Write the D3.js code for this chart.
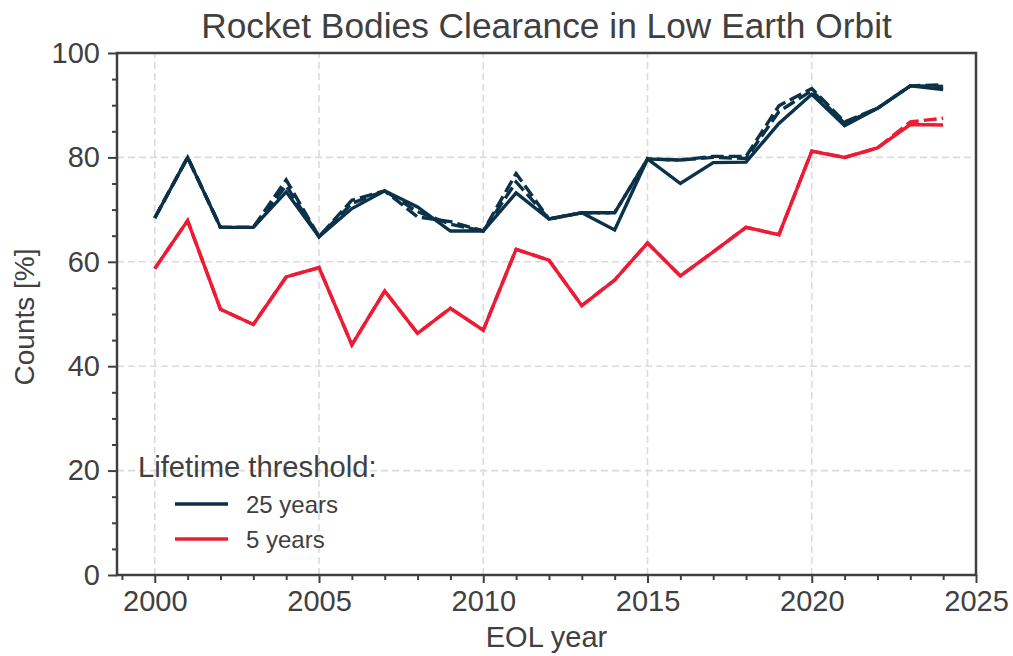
<!DOCTYPE html>
<html>
<head>
<meta charset="utf-8">
<script src="https://cdn.jsdelivr.net/npm/d3@7"></script>
<style>
  html, body { margin: 0; padding: 0; background: #fff; }
  svg { display: block; font-family: "Liberation Sans", Arial, Helvetica, sans-serif; }
</style>
</head>
<body>
<svg id="chart" width="1013" height="656"></svg>
<script>
// ---- data ----
const years = [2000,2001,2002,2003,2004,2005,2006,2007,2008,2009,2010,2011,2012,2013,2014,2015,2016,2017,2018,2019,2020,2021,2022,2023,2024];
const lt25 = [68.4,80.0,66.6,66.6,73.4,64.8,70.2,73.6,70.5,65.9,65.9,73.2,68.2,69.4,66.1,79.7,75.0,79.0,79.1,86.5,92.1,86.1,89.4,93.7,93.0];
const lt25altA = [68.4,80.0,66.6,66.6,75.7,64.8,71.8,73.6,68.6,67.7,65.9,76.9,68.2,69.4,69.4,79.7,79.5,80.2,80.2,89.9,93.2,86.8,89.4,93.7,93.9];
const lt25altB = [68.4,80.0,66.6,66.6,74.6,64.8,71.2,73.6,69.6,67.2,65.9,75.3,68.2,69.4,69.4,79.7,79.5,80.0,79.8,88.8,92.8,86.5,89.4,93.7,93.6];
const lt5 = [58.7,67.9,50.9,48.0,57.1,58.9,44.1,54.4,46.3,51.1,46.9,62.4,60.3,51.6,56.5,63.6,57.3,61.9,66.6,65.2,81.2,80.0,81.8,86.3,86.2];
const lt5alt = [58.7,67.9,50.9,48.0,57.1,58.9,44.1,54.4,46.3,51.1,46.9,62.4,60.3,51.6,56.5,63.6,57.3,61.9,66.6,65.2,81.2,80.0,81.8,86.8,87.5];
const xTicks = [2000,2005,2010,2015,2020,2025];
const yTicks = [0,20,40,60,80,100];
const legendTitle = "Lifetime threshold:";
const legendLabels = ["25 years","5 years"];
const titleText = "Rocket Bodies Clearance in Low Earth Orbit";
const xLabel = "EOL year";
const yLabel = "Counts [%]";

// ---- layout ----
const W = 1013, H = 656;
const m = {left: 117, right: W - 976, top: 53, bottom: H - 575};
const navy = "#0b3249", red = "#ec1c35", ink = "#404040";
const svg = d3.select("#chart");

const x = d3.scaleLinear().domain([1998.85, 2025]).range([m.left, W - m.right]);
const y = d3.scaleLinear().domain([0, 100]).range([H - m.bottom, m.top]);

// grid
const grid = svg.append("g");
grid.selectAll("line.gx").data(xTicks.filter(t => t < 2025)).enter().append("line")
  .attr("x1", d => x(d)).attr("x2", d => x(d)).attr("y1", y(0)).attr("y2", y(100))
  .attr("stroke", "#dcdcdc").attr("stroke-width", 1.6).attr("stroke-dasharray", "7,4");
grid.selectAll("line.gy").data(yTicks.filter(t => t > 0 && t < 100)).enter().append("line")
  .attr("x1", x.range()[0]).attr("x2", x.range()[1]).attr("y1", d => y(d)).attr("y2", d => y(d))
  .attr("stroke", "#dcdcdc").attr("stroke-width", 1.6).attr("stroke-dasharray", "7,4");

// lines
const line = d3.line().x((d, i) => x(years[i])).y(d => y(d));
const plot = svg.append("g");
function drawLine(data, color, dash) {
  plot.append("path").datum(data).attr("d", line).attr("fill", "none")
    .attr("stroke", color).attr("stroke-width", 3.4).attr("stroke-linejoin", "miter")
    .attr("stroke-dasharray", dash || null);
}
drawLine(lt25, navy);
drawLine(lt5, red);
drawLine(lt25altA, navy, "13,5");
drawLine(lt25altB, navy, "13,5");
drawLine(lt5alt, red, "13,5");

// axes
const xAxis = d3.axisBottom(x).tickValues(xTicks).tickFormat(d3.format("d")).tickSize(8).tickPadding(7);
const yAxis = d3.axisLeft(y).tickValues(yTicks).tickSize(9).tickPadding(8);
const gx = svg.append("g").attr("transform", `translate(0,${y(0)})`).call(xAxis);
const gy = svg.append("g").attr("transform", `translate(${x.range()[0]},0)`).call(yAxis);
// minor ticks
const xMinor = d3.axisBottom(x).tickValues(years.concat([1999]).filter(v => xTicks.indexOf(v) < 0)).tickSize(5).tickFormat("");
const yMinor = d3.axisLeft(y).tickValues(d3.range(5, 100, 5).filter(v => v % 20 !== 0)).tickSize(5).tickFormat("");
svg.append("g").attr("transform", `translate(0,${y(0)})`).call(xMinor);
svg.append("g").attr("transform", `translate(${x.range()[0]},0)`).call(yMinor);
svg.selectAll(".domain").remove();
svg.selectAll(".tick line").attr("stroke", ink).attr("stroke-width", 2);
svg.selectAll(".tick text").attr("fill", ink).style("font-size", "29px");

// spines
svg.append("rect").attr("x", x.range()[0]).attr("y", y(100))
  .attr("width", x.range()[1] - x.range()[0]).attr("height", y(0) - y(100))
  .attr("fill", "none").attr("stroke", ink).attr("stroke-width", 2.5);

// title & labels
svg.append("text").attr("x", (x.range()[0] + x.range()[1]) / 2).attr("y", 38)
  .attr("text-anchor", "middle").attr("fill", ink).style("font-size", "35.3px").text(titleText);
svg.append("text").attr("x", (x.range()[0] + x.range()[1]) / 2).attr("y", 647)
  .attr("text-anchor", "middle").attr("fill", ink).style("font-size", "29px").text(xLabel);
svg.append("text").attr("transform", `translate(34,${(y(0) + y(100)) / 2 + 3}) rotate(-90)`)
  .attr("text-anchor", "middle").attr("fill", ink).style("font-size", "28px").text(yLabel);

// legend
const lg = svg.append("g");
lg.append("text").attr("x", 138).attr("y", 477).attr("fill", ink).style("font-size", "29.2px").text(legendTitle);
const lcolors = [navy, red];
legendLabels.forEach((lab, i) => {
  const yy = 504 + i * 35;
  lg.append("line").attr("x1", 175).attr("x2", 228).attr("y1", yy).attr("y2", yy)
    .attr("stroke", lcolors[i]).attr("stroke-width", 3.4);
  lg.append("text").attr("x", 246).attr("y", yy + 8.5).attr("fill", ink)
    .style("font-size", "24px").text(lab);
});
</script>
</body>
</html>
